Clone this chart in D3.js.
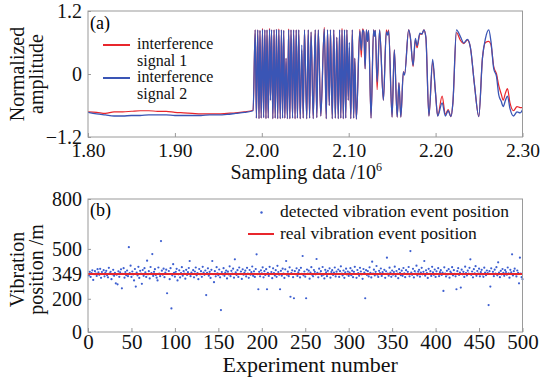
<!DOCTYPE html>
<html><head><meta charset="utf-8">
<script src="https://cdn.jsdelivr.net/npm/d3@7"></script>
<style>body{margin:0;background:#fff} svg{display:block}</style>
</head><body>
<svg id="c" width="541" height="382"></svg>
<script>
// ---------- Data: panel (a) ----------
const sampleX = [
 1.80,1.81,1.82,1.83,1.84,1.85,1.86,1.87,1.88,1.89,1.90,1.91,1.92,1.93,1.94,1.95,1.96,1.97,1.98,1.99,
 1.9924,1.9938,1.9953,1.9968,1.9979,1.9993,2.0008,2.0021,2.0035,2.0048,2.0060,2.0074,2.0089,2.0100,2.0112,2.0127,2.0141,2.0154,2.0169,2.0183,
 2.0196,2.0212,2.0226,2.0239,2.0252,2.0265,2.0279,2.0295,2.0309,2.0323,2.0336,2.0354,2.0366,2.0383,2.0396,2.0410,2.0425,2.0442,2.0460,2.0477,
 2.0491,2.0517,2.0535,2.0550,2.0567,2.0592,2.0615,2.0633,2.0650,2.0679,2.0719,2.0742,2.0756,2.0777,2.0790,2.0811,2.0828,2.0846,2.0863,2.0880,
 2.0895,2.0909,2.0923,2.0938,2.0952,2.0966,2.0979,2.0995,2.1007,2.1024,2.1042,2.1057,2.1070,2.1088,2.1128,2.1145,2.1160,2.1174,2.1189,2.1203,
 2.1217,2.1229,2.1257,2.1286,2.1297,2.1307,2.1327,2.1356,2.1399,2.1433,2.1448,2.1460,2.1499,2.1525,2.1558,2.1578,2.1600,2.1629,2.1643,2.1690,
 2.1710,2.1741,2.1767,2.1787,2.1819,2.1842,2.1865,2.1888,2.1923,2.1966,2.1998,2.2024,2.2075,2.2113,2.2144,2.2176,2.2199,2.2240,2.2286,2.2324,
 2.2366,2.2401,2.2447,2.2497,2.2539,2.2574,2.2612,2.2637,2.2669,2.2701,2.2727,2.2755,2.2778,2.2804,2.2827,2.2856,2.2897,2.2937,2.2972,2.3000
];
const signal1 = [ // interference signal 1 (red)
 -0.72,-0.73,-0.75,-0.72,-0.72,-0.71,-0.70,-0.70,-0.71,-0.71,-0.73,-0.74,-0.75,-0.76,-0.76,-0.76,-0.75,-0.74,-0.72,-0.69,
 0.84,-0.84,0.84,-0.85,0.83,-0.84,0.87,-0.83,0.84,-0.85,0.84,-0.84,0.87,-0.50,0.84,-0.85,0.84,-0.84,0.85,-0.85,
 0.86,-0.85,0.84,-0.84,0.83,-0.84,0.30,-0.85,0.86,-0.85,0.84,-0.84,0.84,-0.85,0.84,-0.84,0.84,-0.85,0.45,-0.84,
 0.84,-0.85,0.84,-0.84,0.80,-0.85,0.84,-0.83,0.84,-0.80,0.89,-0.85,0.84,-0.60,0.84,-0.85,0.84,-0.84,0.70,-0.85,
 0.84,-0.84,0.87,-0.85,0.84,-0.84,0.84,-0.50,0.50,-0.85,0.84,-0.84,0.30,-0.86,0.85,0.32,0.86,0.80,0.10,0.84,
 0.62,0.83,-0.84,0.84,0.72,0.83,-0.30,0.84,-0.50,0.84,0.76,0.84,-0.82,0.46,-0.82,-0.17,-0.82,0.04,0.00,0.84,
 0.68,0.14,0.66,0.50,0.76,0.76,0.84,0.70,-0.80,0.22,-0.34,-0.80,-0.42,-0.77,-0.68,-0.81,-0.55,0.79,0.64,0.58,
 0.65,0.50,-0.20,-0.81,0.30,0.60,0.62,0.56,0.14,0.00,-0.22,-0.38,-0.50,-0.36,-0.28,-0.55,-0.70,-0.62,-0.64,-0.64
];
const signal2 = [ // interference signal 2 (blue)
 -0.73,-0.76,-0.78,-0.80,-0.80,-0.79,-0.79,-0.78,-0.78,-0.78,-0.79,-0.79,-0.79,-0.79,-0.78,-0.78,-0.77,-0.75,-0.73,-0.70,
 0.84,-0.84,0.84,-0.85,0.83,-0.84,0.85,-0.83,0.84,-0.85,0.84,-0.84,0.85,-0.50,0.84,-0.85,0.84,-0.84,0.85,-0.85,
 0.84,-0.85,0.84,-0.84,0.83,-0.84,0.30,-0.85,0.84,-0.85,0.84,-0.84,0.84,-0.85,0.84,-0.84,0.84,-0.85,0.55,-0.84,
 0.84,-0.85,0.84,-0.84,0.80,-0.85,0.84,-0.83,0.84,-0.80,0.86,-0.85,0.84,-0.60,0.84,-0.85,0.84,-0.84,0.70,-0.85,
 0.84,-0.84,0.84,-0.85,0.84,-0.84,0.84,-0.50,0.60,-0.85,0.84,-0.84,0.30,-0.86,0.82,0.45,0.84,0.80,0.10,0.84,
 0.62,0.83,-0.84,0.84,0.72,0.83,-0.15,0.84,-0.50,0.80,0.74,0.82,-0.82,0.46,-0.82,-0.17,-0.82,0.04,-0.02,0.84,
 0.70,0.16,0.68,0.54,0.78,0.76,0.84,0.70,-0.80,0.28,-0.34,-0.80,-0.55,-0.80,-0.70,-0.81,-0.55,0.84,0.71,0.59,
 0.66,0.50,-0.20,-0.81,0.30,0.68,0.84,0.62,0.10,-0.05,-0.40,-0.52,-0.62,-0.50,-0.42,-0.66,-0.80,-0.72,-0.74,-0.68
];
const topXTicks = [1.80, 1.90, 2.00, 2.10, 2.20, 2.30];
const topXTickLabels = ["1.80", "1.90", "2.00", "2.10", "2.20", "2.30"];
const topYTicks = [-1.2, 0, 1.2];
const topYTickLabels = ["\u22121.2", "0", "1.2"];
const topSeriesNames = [["interference", "signal 1"], ["interference", "signal 2"]];

// ---------- Data: panel (b) ----------
const detectedPositions = [
 340,362,331,355,371,313,348,366,352,337,378,359,344,380,326,361,349,372,335,357,
 368,341,329,386,353,362,318,347,374,338,356,293,345,287,365,332,359,377,263,350,
 384,327,361,342,370,336,510,355,399,331,364,346,310,379,273,357,340,392,325,368,
 351,290,373,338,384,359,331,429,347,366,322,391,354,469,337,362,378,343,327,310,
 388,352,336,547,369,345,381,330,358,375,233,349,367,318,384,142,341,408,356,333,
 362,380,310,347,371,328,355,390,339,366,352,321,374,343,360,385,427,336,358,349,
 372,329,364,388,341,355,318,379,347,366,332,392,358,344,370,222,356,383,339,362,
 325,374,427,348,300,366,335,390,353,342,376,329,132,361,347,384,338,357,370,322,
 363,346,395,336,368,352,381,327,437,359,343,372,331,388,350,364,319,377,345,356,
 369,334,386,352,326,373,345,360,394,338,365,331,379,467,348,257,362,335,371,353,
 389,329,366,343,378,257,356,337,392,349,361,324,383,355,340,372,332,398,361,345,
 257,368,339,381,352,325,377,427,344,363,336,389,212,354,371,330,203,366,348,383,
 337,359,372,328,386,350,457,341,364,333,203,376,352,369,321,358,390,344,335,373,
 362,347,439,356,329,381,351,366,338,391,345,322,374,359,336,368,350,383,327,361,
 372,343,357,388,334,363,349,376,331,366,395,352,340,370,326,359,381,346,364,337,
 357,384,342,369,330,362,392,349,326,373,355,338,386,364,347,320,379,358,203,372,
 343,366,334,389,356,328,423,351,375,340,362,397,345,331,368,354,382,337,360,349,
 374,326,365,447,352,339,387,358,332,370,345,361,393,336,367,351,324,378,356,342,
 369,338,385,353,330,372,348,362,391,335,487,357,344,380,328,366,352,399,340,363,
 374,333,358,386,347,362,427,339,371,355,325,380,350,366,337,392,359,344,376,331,
 365,349,384,336,360,372,343,357,247,389,352,334,368,346,378,327,363,355,390,341,
 372,350,335,257,366,384,343,358,267,375,347,362,331,393,355,340,369,352,386,437,
 344,364,329,378,353,396,338,367,351,381,335,360,374,346,332,387,358,342,370,355,
 162,366,273,383,349,362,336,375,352,390,341,419,358,330,368,347,379,356,338,372,
 361,345,388,353,327,374,359,467,340,366,381,348,334,370,356,293,447,352,330,318
];
const realPosition = 349;
const botXTicks = [0, 50, 100, 150, 200, 250, 300, 350, 400, 450, 500];
const botYTicks = [0, 200, 349, 500, 800];
const botLegendNames = ["detected vibration event position", "real vibration event position"];

// ---------- Drawing ----------
const FONT = "'Liberation Serif', 'Times New Roman', serif";
const RED = "#e8262c", BLUE = "#3a55b5", FRAME = "#9a9a9a";
const svg = d3.select("#c");
svg.append("rect").attr("width",541).attr("height",382).attr("fill","#fff");

const L = 88, R = 522.5;
const TA = {top: 11, bottom: 137};
const TB = {top: 199, bottom: 332};

function styleAxis(g, fs) {
  g.select(".domain").remove();
  g.selectAll(".tick line").attr("stroke", FRAME).attr("stroke-width", 1);
  g.selectAll(".tick text").attr("font-family", FONT).attr("font-size", fs).attr("fill", "#111");
}

// ----- Panel (a)
const xA = d3.scaleLinear().domain([1.80, 2.30]).range([L, R]);
const yA = d3.scaleLinear().domain([-1.2, 1.2]).range([TA.bottom, TA.top]);

svg.append("defs").append("clipPath").attr("id","clipA")
  .append("rect").attr("x",L).attr("y",TA.top).attr("width",R-L).attr("height",TA.bottom-TA.top);

const lineA = (vals) => d3.line()
  .x((d,i) => xA(sampleX[i])).y((d) => yA(d))
  .curve(d3.curveMonotoneX)(vals);

const gA = svg.append("g").attr("clip-path","url(#clipA)");
gA.append("path").attr("d", lineA(signal1)).attr("fill","none")
  .attr("stroke", RED).attr("stroke-width",1.2).attr("stroke-linejoin","round");
gA.append("path").attr("d", lineA(signal2)).attr("fill","none")
  .attr("stroke", BLUE).attr("stroke-width",1.3).attr("stroke-linejoin","round");

const axA = svg.append("g").attr("transform",`translate(0,${TA.bottom})`)
  .call(d3.axisBottom(xA).tickValues(topXTicks).tickFormat((d,i)=>topXTickLabels[i])
        .tickSizeInner(-4).tickSizeOuter(0).tickPadding(6));
styleAxis(axA, 19.5);
const ayA = svg.append("g").attr("transform",`translate(${L},0)`)
  .call(d3.axisLeft(yA).tickValues(topYTicks).tickFormat((d,i)=>topYTickLabels[i])
        .tickSizeInner(-3).tickSizeOuter(0).tickPadding(6));
styleAxis(ayA, 20);

svg.append("rect").attr("x",L).attr("y",TA.top).attr("width",R-L).attr("height",TA.bottom-TA.top)
  .attr("fill","none").attr("stroke",FRAME).attr("stroke-width",1);

svg.append("text").attr("x",90).attr("y",29).attr("font-family",FONT).attr("font-size",18).text("(a)");

// legend (a)
const legA = svg.append("g").attr("font-family",FONT).attr("font-size",16).attr("fill","#111");
legA.append("line").attr("x1",103).attr("x2",130).attr("y1",45).attr("y2",45).attr("stroke",RED).attr("stroke-width",2);
legA.append("line").attr("x1",103).attr("x2",130).attr("y1",78).attr("y2",78).attr("stroke",BLUE).attr("stroke-width",2);
[49, 82].forEach((y,i) => {
  const t = legA.append("text").attr("x",137).attr("y",y);
  t.append("tspan").attr("x",137).text(topSeriesNames[i][0]);
  t.append("tspan").attr("x",137).attr("dy",16.5).text(topSeriesNames[i][1]);
});

// axis titles (a)
const titleA = svg.append("text").attr("x",(L+R)/2+1).attr("y",179).attr("text-anchor","middle")
  .attr("font-family",FONT).attr("font-size",20).attr("fill","#111");
titleA.append("tspan").text("Sampling data /10");
titleA.append("tspan").attr("font-size",12).attr("dy",-8).text("6");

const ytA = svg.append("text").attr("transform",`translate(0,${(TA.top+TA.bottom)/2}) rotate(-90)`)
  .attr("text-anchor","middle").attr("font-family",FONT).attr("font-size",20).attr("fill","#111");
ytA.append("tspan").attr("x",0).attr("y",24).text("Normalized");
ytA.append("tspan").attr("x",0).attr("y",43).text("amplitude");

// ----- Panel (b)
const xB = d3.scaleLinear().domain([0, 500]).range([L, R]);
const yB = d3.scaleLinear().domain([0, 800]).range([TB.bottom, TB.top]);

const axB = svg.append("g").attr("transform",`translate(0,${TB.bottom})`)
  .call(d3.axisBottom(xB).tickValues(botXTicks).tickFormat(d3.format("d"))
        .tickSizeInner(-4).tickSizeOuter(0).tickPadding(2));
styleAxis(axB, 21);
const ayB = svg.append("g").attr("transform",`translate(${L},0)`)
  .call(d3.axisLeft(yB).tickValues(botYTicks).tickFormat(d3.format("d"))
        .tickSizeInner(-3).tickSizeOuter(0).tickPadding(6));
styleAxis(ayB, 20);

svg.append("g").selectAll("circle").data(detectedPositions).join("circle")
  .attr("cx",(d,i)=>xB(i+1)).attr("cy",d=>yB(d)).attr("r",1.1).attr("fill","#3d5fd0");

svg.append("line").attr("x1",xB(0)).attr("x2",xB(500)).attr("y1",yB(realPosition)).attr("y2",yB(realPosition))
  .attr("stroke",RED).attr("stroke-width",2);

svg.append("rect").attr("x",L).attr("y",TB.top).attr("width",R-L).attr("height",TB.bottom-TB.top)
  .attr("fill","none").attr("stroke",FRAME).attr("stroke-width",1);

svg.append("text").attr("x",90).attr("y",216).attr("font-family",FONT).attr("font-size",18).text("(b)");

// legend (b)
const legB = svg.append("g").attr("font-family",FONT).attr("font-size",17.5).attr("fill","#111");
legB.append("circle").attr("cx",261.5).attr("cy",212.5).attr("r",1.2).attr("fill","#3d5fd0");
legB.append("line").attr("x1",248).attr("x2",274).attr("y1",234).attr("y2",234).attr("stroke",RED).attr("stroke-width",2);
legB.append("text").attr("x",280).attr("y",217).text(botLegendNames[0]);
legB.append("text").attr("x",280).attr("y",239).text(botLegendNames[1]);

svg.append("text").attr("x",(L+R)/2+5).attr("y",372).attr("text-anchor","middle")
  .attr("font-family",FONT).attr("font-size",22).attr("fill","#111").text("Experiment number");

const ytB = svg.append("text").attr("transform",`translate(0,${(TB.top+TB.bottom)/2+4}) rotate(-90)`)
  .attr("text-anchor","middle").attr("font-family",FONT).attr("font-size",20).attr("fill","#111");
ytB.append("tspan").attr("x",0).attr("y",24).text("Vibration");
ytB.append("tspan").attr("x",0).attr("y",43).text("position /m");
</script>
</body></html>
